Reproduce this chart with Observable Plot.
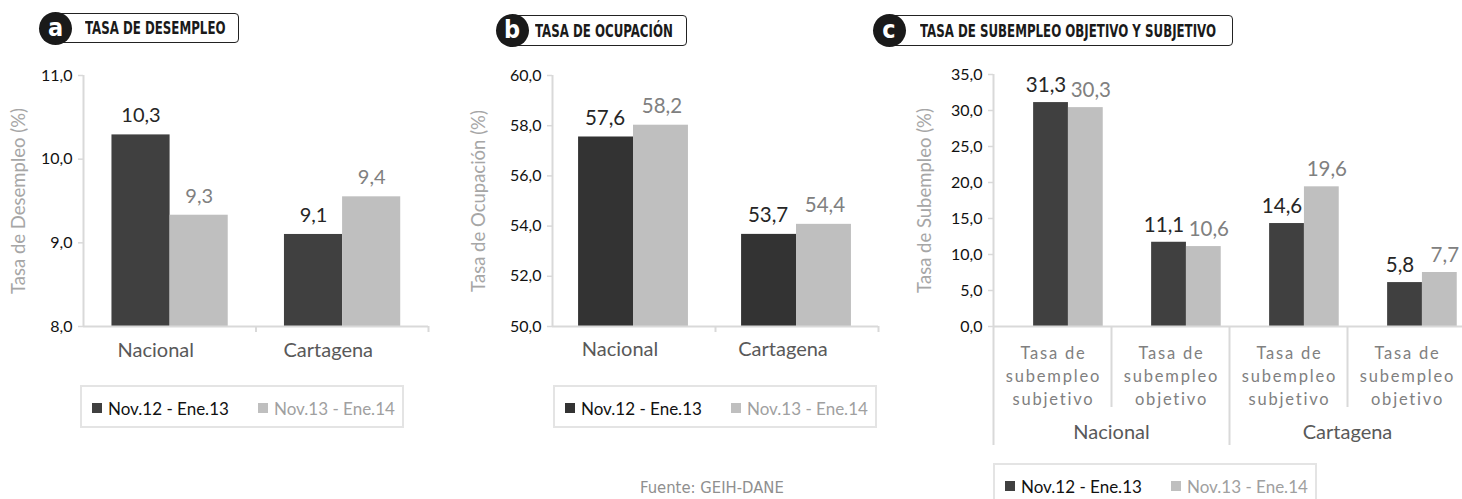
<!DOCTYPE html>
<html>
<head>
<meta charset="utf-8">
<script src="https://cdn.jsdelivr.net/npm/d3@7"></script>
<script src="https://cdn.jsdelivr.net/npm/@observablehq/plot@0.6"></script>
<style>
  html, body { margin: 0; padding: 0; background: #fff; overflow: hidden; }
  #wrap { position: relative; width: 1462px; height: 499px; overflow: hidden; font-family: Lato, "Open Sans", sans-serif; }
  .plot { position: absolute; top: 0; }
  .hbox { position: absolute; box-sizing: border-box; border: 1.5px solid #222; border-radius: 4px; background: #fff; }
  .htxt { position: absolute; font-family: "Liberation Sans Narrow", "DejaVu Sans Condensed", sans-serif; font-stretch: condensed; font-weight: bold; font-size: 18.5px; color: #1a1a1a; white-space: nowrap; line-height: 1; transform: scaleX(0.71); transform-origin: 0 50%; }
  .circ { position: absolute; width: 33px; height: 33px; border-radius: 50%; background: #1a1a1a; color: #fff; font-family: "Liberation Sans Narrow", "DejaVu Sans Condensed", sans-serif; font-weight: bold; font-size: 25px; line-height: 31px; text-align: center; }
  .legend { position: absolute; box-sizing: border-box; border: 2px solid #e4e4e4; width: 324px; height: 43px; }
  .sw { position: absolute; width: 10px; height: 10px; }
  .lt { position: absolute; font-size: 17px; line-height: 1; white-space: nowrap; }
  .foot { position: absolute; font-family: "Liberation Sans Narrow", "DejaVu Sans Condensed", sans-serif; font-size: 16.5px; color: #8f8f8f; white-space: nowrap; line-height: 1; }
</style>
</head>
<body>
<div id="wrap"></div>
<script>
// ---------------- DATA ----------------
const series = ["Nov.12 - Ene.13", "Nov.13 - Ene.14"];
const regions = ["Nacional", "Cartagena"];

// (a) Tasa de desempleo — bar heights, printed labels
const desempleoBar12 = [10.29, 9.10];
const desempleoBar13 = [9.33, 9.55];
const desempleoLab12 = [10.3, 9.1];
const desempleoLab13 = [9.3, 9.4];
const desempleoTicks = [8, 9, 10, 11];

// (b) Tasa de ocupación
const ocupacionBar12 = [57.55, 53.67];
const ocupacionBar13 = [58.02, 54.07];
const ocupacionLab12 = [57.6, 53.7];
const ocupacionLab13 = [58.2, 54.4];
const ocupacionTicks = [50, 52, 54, 56, 58, 60];

// (c) Tasa de subempleo objetivo y subjetivo
const subCats = [
  "Tasa de\nsubempleo\nsubjetivo",
  "Tasa de\nsubempleo\nobjetivo",
  "Tasa de\nsubempleo\nsubjetivo",
  "Tasa de\nsubempleo\nobjetivo"
];
const subGroups = ["Nacional", "Cartagena"];
const subempleoBar12 = [31.1, 11.7, 14.3, 6.1];
const subempleoBar13 = [30.4, 11.1, 19.4, 7.5];
const subempleoLab12 = [31.3, 11.1, 14.6, 5.8];
const subempleoLab13 = [30.3, 10.6, 19.6, 7.7];
const subempleoTicks = [0, 5, 10, 15, 20, 25, 30, 35];

const titles = ["TASA DE DESEMPLEO", "TASA DE OCUPACIÓN", "TASA DE SUBEMPLEO OBJETIVO Y SUBJETIVO"];
const yTitles = ["Tasa de Desempleo (%)", "Tasa de Ocupación (%)", "Tasa de Subempleo (%)"];
const source = "Fuente: GEIH-DANE";

// ---------------- STYLE ----------------
const LIGHT = "#bfbfbf";
const AXIS = "#d9d9d9";
const fmt = d => d.toFixed(1).replace(".", ",");
const wrap = document.getElementById("wrap");

function barMarks(n, b12, b13, l12, l13, y0, o) {
  const rows = d3.range(n).map(i => ({i, a: b12[i], b: b13[i], la: l12[i], lb: l13[i]}));
  const xa1 = d => d.i + o.pad;
  const xa2 = d => d.i + o.pad + o.bw;
  const xb2 = d => d.i + o.pad + 2 * o.bw;
  return [
    Plot.rect(rows, {x1: xa1, x2: xa2, y1: y0, y2: "a", fill: o.dark}),
    Plot.rect(rows, {x1: xa2, x2: xb2, y1: y0, y2: "b", fill: LIGHT}),
    Plot.text(rows, {x: d => d.i + o.pad + 0.5 * o.bw, y: "a", text: d => fmt(d.la), dy: o.dy, dx: -o.spread, fill: "#262626", fontSize: o.fs}),
    Plot.text(rows, {x: d => d.i + o.pad + 1.5 * o.bw, y: "b", text: d => fmt(d.lb), dy: o.dy, dx: o.spread, fill: "#808080", fontSize: o.fs})
  ];
}

function yAxisMarks(ticks, title, titleDx) {
  return [
    Plot.ruleX([0], {stroke: AXIS, strokeWidth: 2}),
    Plot.axisY({ticks, tickFormat: fmt, tickSize: 5, tickPadding: 6, stroke: AXIS, strokeWidth: 1.5, fill: "#111", fontSize: 16, label: null}),
    Plot.text([title], {frameAnchor: "left", textAnchor: "middle", rotate: -90, dx: titleDx, text: d => d, fill: "#a6a6a6", fontSize: 18.5})
  ];
}

function place(svg, left) {
  svg.classList.add("plot");
  svg.style.left = left + "px";
  wrap.appendChild(svg);
}

const plotStyle = {fontFamily: "Lato, 'Open Sans', sans-serif", background: "transparent", overflow: "visible"};

// ---------------- PANEL A ----------------
{
  const y0 = desempleoTicks[0];
  const svg = Plot.plot({
    width: 440, height: 370,
    marginLeft: 83, marginRight: 12, marginTop: 75, marginBottom: 44,
    style: plotStyle,
    x: {domain: [0, regions.length], axis: null},
    y: {domain: [desempleoTicks[0], desempleoTicks[desempleoTicks.length - 1]], axis: null},
    marks: [
      ...barMarks(regions.length, desempleoBar12, desempleoBar13, desempleoLab12, desempleoLab13, y0,
        {pad: 0.165, bw: 0.337, dark: "#404040", dy: -19, fs: 20, spread: 0}),
      Plot.ruleY([y0], {stroke: AXIS, strokeWidth: 2}),
      Plot.ruleX([1, 2], {y1: y0, y2: y0, insetBottom: -6, stroke: AXIS, strokeWidth: 2}),
      ...yAxisMarks(desempleoTicks, yTitles[0], -64),
      Plot.text(regions, {x: (d, i) => i + 0.5, y: y0, text: d => d, lineAnchor: "top", dy: 16, dx: -14, fill: "#595959", fontSize: 20})
    ]
  });
  place(svg, 0);
}

// ---------------- PANEL B ----------------
{
  const y0 = ocupacionTicks[0];
  const svg = Plot.plot({
    width: 460, height: 370,
    marginLeft: 112, marginRight: 22, marginTop: 75, marginBottom: 44,
    style: plotStyle,
    x: {domain: [0, regions.length], axis: null},
    y: {domain: [ocupacionTicks[0], ocupacionTicks[ocupacionTicks.length - 1]], axis: null},
    marks: [
      ...barMarks(regions.length, ocupacionBar12, ocupacionBar13, ocupacionLab12, ocupacionLab13, y0,
        {pad: 0.16, bw: 0.337, dark: "#333333", dy: -19, fs: 20.5, spread: 1}),
      Plot.ruleY([y0], {stroke: AXIS, strokeWidth: 2}),
      Plot.ruleX([1, 2], {y1: y0, y2: y0, insetBottom: -6, stroke: AXIS, strokeWidth: 2}),
      ...yAxisMarks(ocupacionTicks, yTitles[1], -73),
      Plot.text(regions, {x: (d, i) => i + 0.5, y: y0, text: d => d, lineAnchor: "top", dy: 15, dx: -14, fill: "#595959", fontSize: 20})
    ]
  });
  place(svg, 440);
}

// ---------------- PANEL C ----------------
{
  const y0 = subempleoTicks[0];
  const svg = Plot.plot({
    width: 585, height: 460,
    marginLeft: 113, marginRight: 0, marginTop: 74, marginBottom: 134,
    style: plotStyle,
    x: {domain: [0, subCats.length], axis: null},
    y: {domain: [subempleoTicks[0], subempleoTicks[subempleoTicks.length - 1]], axis: null},
    marks: [
      ...barMarks(subCats.length, subempleoBar12, subempleoBar13, subempleoLab12, subempleoLab13, y0,
        {pad: 0.34, bw: 0.295, dark: "#404040", dy: -17, fs: 20.5, spread: 5}),
      Plot.ruleY([y0], {stroke: AXIS, strokeWidth: 2}),
      Plot.ruleX([0, 2, 4], {y1: y0, y2: y0, insetBottom: -119, stroke: AXIS, strokeWidth: 2}),
      Plot.ruleX([1, 3], {y1: y0, y2: y0, insetBottom: -81, stroke: AXIS, strokeWidth: 2}),
      ...yAxisMarks(subempleoTicks, yTitles[2], -68),
      Plot.text(subCats, {x: (d, i) => i + 0.5, y: y0, text: d => d, lineAnchor: "top", lineHeight: 1.4, dy: 16, dx: 1, fill: "#808080", fontSize: 16.5}),
      Plot.text(subGroups, {x: (d, i) => 2 * i + 1, y: y0, text: d => d, lineAnchor: "top", dy: 98, fill: "#595959", fontSize: 20})
    ]
  });
  // wider letter spacing on the multi-line sub-category labels
  d3.select(svg).selectAll("text")
    .filter(function () { return this.textContent.includes("subempleo"); })
    .style("letter-spacing", "1.8px");
  place(svg, 880);
}

// ---------------- HEADERS ----------------
const headers = [
  {letter: "a", cx: 55.5, cy: 28, boxL: 55, boxR: 239, top: 13, h: 30, tx: 85},
  {letter: "b", cx: 512, cy: 30.5, boxL: 512, boxR: 687, top: 15, h: 31, tx: 535},
  {letter: "c", cx: 889, cy: 30.5, boxL: 889, boxR: 1233, top: 15, h: 31, tx: 920}
];
headers.forEach((h, k) => {
  const box = document.createElement("div");
  box.className = "hbox";
  Object.assign(box.style, {left: h.boxL + "px", top: h.top + "px", width: (h.boxR - h.boxL) + "px", height: h.h + "px"});
  wrap.appendChild(box);
  const t = document.createElement("div");
  t.className = "htxt";
  t.textContent = titles[k];
  Object.assign(t.style, {left: h.tx + "px", top: (h.top + h.h / 2 - 9) + "px"});
  wrap.appendChild(t);
  const c = document.createElement("div");
  c.className = "circ";
  c.textContent = h.letter;
  Object.assign(c.style, {left: (h.cx - 16.5) + "px", top: (h.cy - 16.5) + "px"});
  wrap.appendChild(c);
});

// ---------------- LEGENDS ----------------
const legendColors = [["#404040", LIGHT], ["#333333", LIGHT], ["#404040", LIGHT]];
const legendTextColors = ["#111", "#a0a0a0"];
const legends = [{x: 80, y: 385}, {x: 553, y: 385}, {x: 993, y: 463}];
legends.forEach((L, k) => {
  const box = document.createElement("div");
  box.className = "legend";
  Object.assign(box.style, {left: L.x + "px", top: L.y + "px"});
  wrap.appendChild(box);
  const offs = [[12, 28], [178, 194]];
  series.forEach((s, j) => {
    const sw = document.createElement("div");
    sw.className = "sw";
    Object.assign(sw.style, {left: (L.x + offs[j][0]) + "px", top: (L.y + 18) + "px", background: legendColors[k][j]});
    wrap.appendChild(sw);
    const tx = document.createElement("div");
    tx.className = "lt";
    tx.textContent = s;
    Object.assign(tx.style, {left: (L.x + offs[j][1]) + "px", top: (L.y + 14.5) + "px", color: legendTextColors[j]});
    wrap.appendChild(tx);
  });
});

// ---------------- SOURCE ----------------
const f = document.createElement("div");
f.className = "foot";
f.textContent = source;
Object.assign(f.style, {left: "640px", top: "480px"});
wrap.appendChild(f);
</script>
</body>
</html>
